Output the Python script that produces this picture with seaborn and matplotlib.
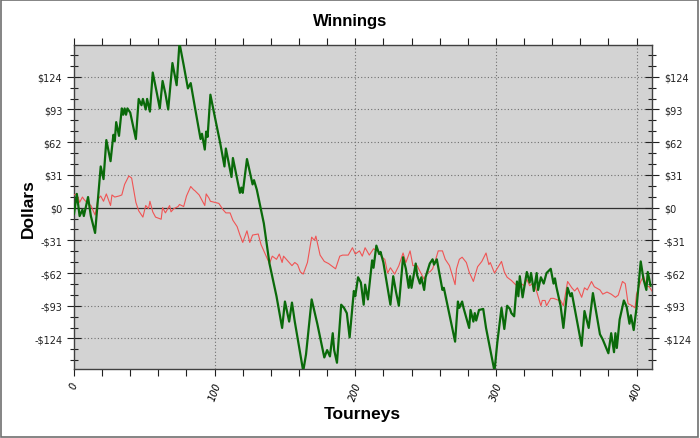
import matplotlib
matplotlib.use("Agg")
import matplotlib.pyplot as plt
from matplotlib.ticker import MultipleLocator, FuncFormatter
from matplotlib.patches import Rectangle
import seaborn as sns
import pandas as pd

# green (thick) series: tourney number / cumulative dollars
green_x = [0, 2, 4, 6, 7, 10, 12, 15, 19, 21, 23, 26, 28, 29, 30, 32, 34, 35, 36, 37,
           38, 40, 44, 46, 48, 49, 51, 52, 54, 56, 59, 61, 63, 65, 67, 70, 73, 75, 78, 81,
           83, 86, 90, 91, 93, 94, 95, 97, 100, 104, 107, 108, 112, 113, 118, 119, 120, 123, 127, 128,
           130, 135, 139, 144, 148, 150, 153, 155, 157, 163, 165, 169, 173, 178, 180, 182, 184, 185, 187, 190,
           192, 194, 196, 199, 200, 202, 204, 206, 207, 209, 211, 212, 213, 215, 217, 218, 220, 225, 227, 229,
           231, 234, 236, 238, 239, 240, 243, 244, 246, 247, 249, 250, 253, 255, 256, 258, 262, 263, 271, 273,
           274, 276, 277, 281, 282, 284, 285, 286, 288, 291, 293, 299, 301, 304, 306, 308, 310, 311, 313, 315,
           316, 317, 319, 322, 324, 325, 327, 329, 330, 332, 334, 336, 339, 341, 342, 343, 346, 348, 351, 353,
           354, 361, 363, 366, 369, 374, 376, 380, 382, 384, 385, 386, 388, 391, 393, 395, 396, 398, 400, 403,
           405, 407, 408, 410]
green_y = [-6, 13, -8, -2, -8, 10, -8, -24, 39, 27, 64, 44, 69, 63, 81, 68, 94, 88, 94, 88,
           94, 90, 65, 103, 97, 103, 93, 103, 91, 128, 108, 94, 120, 108, 93, 137, 116, 156, 135, 113,
           118, 95, 65, 70, 55, 72, 67, 107, 87, 61, 39, 56, 29, 47, 14, 19, 14, 46, 22, 26,
           17, -15, -53, -84, -114, -89, -108, -90, -108, -155, -139, -87, -110, -142, -135, -141, -119, -135, -147, -92,
           -95, -100, -123, -79, -84, -66, -71, -92, -73, -87, -62, -50, -57, -36, -44, -42, -52, -92, -65, -80,
           -93, -47, -58, -76, -65, -76, -53, -64, -72, -66, -78, -66, -53, -49, -54, -49, -78, -76, -127, -89,
           -95, -89, -95, -114, -97, -108, -100, -107, -97, -96, -114, -155, -128, -95, -115, -93, -96, -100, -103, -70,
           -84, -65, -85, -61, -71, -62, -79, -62, -78, -66, -72, -62, -58, -72, -67, -75, -93, -114, -76, -84,
           -81, -131, -98, -114, -81, -120, -125, -138, -119, -137, -119, -133, -106, -88, -94, -110, -102, -116, -95, -51,
           -68, -78, -61, -74]

# red (thin) series
red_x = [0, 2, 4, 6, 7, 9, 12, 15, 17, 19, 21, 23, 26, 27, 29, 32, 34, 36, 39, 41,
         44, 46, 49, 51, 53, 54, 56, 58, 62, 63, 65, 68, 69, 71, 74, 75, 78, 80, 83, 85,
         86, 89, 93, 94, 96, 97, 100, 103, 106, 108, 111, 113, 116, 118, 120, 123, 125, 127, 131, 133,
         136, 139, 141, 144, 146, 148, 149, 155, 157, 159, 161, 163, 166, 169, 171, 172, 175, 178, 181, 186,
         189, 191, 195, 198, 200, 203, 205, 207, 210, 213, 216, 219, 221, 223, 225, 228, 231, 234, 236, 239,
         241, 244, 247, 249, 251, 253, 255, 257, 259, 262, 264, 267, 271, 272, 274, 276, 279, 281, 284, 287,
         290, 293, 295, 296, 299, 304, 306, 308, 311, 314, 316, 318, 320, 322, 324, 326, 328, 332, 333, 335,
         336, 339, 341, 345, 346, 348, 351, 354, 356, 358, 361, 363, 365, 368, 370, 374, 376, 379, 382, 385,
         387, 390, 392, 394, 397, 399, 400, 403, 405, 407, 409, 411]
red_y = [12, 13, 5, 10, 8, 5, 2, -7, 8, 11, 6, 13, 2, 12, 10, 11, 12, 22, 30, 28,
         5, -3, -9, 2, -1, 6, -4, -9, -11, 0, -5, 2, -4, -1, 1, 3, 1, 11, 20, 17,
         16, 12, 2, 13, 9, 6, 5, 4, -2, -5, -5, -12, -18, -26, -33, -22, -33, -26, -25, -35,
         -44, -53, -46, -49, -44, -52, -46, -55, -52, -54, -61, -63, -52, -28, -31, -27, -45, -51, -53, -58,
         -46, -45, -45, -38, -44, -41, -46, -38, -45, -39, -41, -47, -49, -62, -57, -63, -55, -43, -52, -41,
         -55, -55, -63, -68, -61, -61, -58, -50, -41, -41, -49, -55, -73, -58, -49, -47, -52, -61, -70, -56,
         -51, -43, -54, -52, -62, -51, -61, -66, -69, -73, -75, -72, -74, -68, -74, -72, -75, -93, -88, -88,
         -93, -86, -86, -88, -88, -93, -70, -76, -79, -76, -85, -76, -78, -70, -75, -78, -82, -80, -82, -85,
         -83, -70, -72, -91, -93, -95, -82, -70, -65, -74, -75, -79]

green = pd.DataFrame({"Tourneys": green_x, "Dollars": green_y})
red = pd.DataFrame({"Tourneys": red_x, "Dollars": red_y})

fig = plt.figure(figsize=(7, 4.39), dpi=100)
ax = fig.add_axes([0.1057, 0.157, 0.8257, 0.738])
ax.set_facecolor("#d3d3d3")

# grid and zero line
for v in [100, 200, 300, 400]:
    ax.axvline(v, color="#707070", lw=0.8, ls=(0, (1, 2)), zorder=1)
for v in [-124, -93, -62, -31, 31, 62, 93, 124]:
    ax.axhline(v, color="#707070", lw=0.8, ls=(0, (1, 2)), zorder=1)
ax.axhline(0, color="#303030", lw=0.9, zorder=1)

sns.lineplot(data=red, x="Tourneys", y="Dollars", ax=ax, color="#f05454",
             linewidth=0.8, zorder=3)
sns.lineplot(data=green, x="Tourneys", y="Dollars", ax=ax, color="#0a6a0a",
             linewidth=1.6, zorder=4)

ax.set_xlim(0, 411)
ax.set_ylim(-153, 154)

ax.xaxis.set_major_locator(MultipleLocator(100))
ax.xaxis.set_minor_locator(MultipleLocator(20))
ax.yaxis.set_major_locator(MultipleLocator(31))
ax.yaxis.set_minor_locator(MultipleLocator(31 / 3))
ax.yaxis.set_major_formatter(FuncFormatter(
    lambda v, p: ("-$%d" % abs(round(v))) if v < -0.5 else "$%d" % round(v)))

ax.tick_params(axis="y", which="both", left=True, right=True, labelleft=True,
               labelright=True, direction="inout", color="#202020", labelsize=7)
ax.tick_params(axis="y", which="major", length=10, width=0.8)
ax.tick_params(axis="y", which="minor", length=6, width=0.8)
ax.tick_params(axis="x", which="both", bottom=True, direction="out",
               color="#202020", labelsize=7, length=5, width=0.8)
ax.tick_params(axis="x", which="both", top=True)
for t in ax.xaxis.get_ticklines(minor=False) + ax.xaxis.get_ticklines(minor=True):
    pass
plt.setp(ax.get_xticklabels(), rotation=70, style="italic")
for lbl in ax.get_yticklabels():
    lbl.set_color("#202020")

for s in ax.spines.values():
    s.set_color("#404040")
    s.set_linewidth(1.0)

ax.set_xlabel("")
ax.set_ylabel("")
fig.text(0.5, 0.95, "Winnings", ha="center", va="center", fontsize=12,
         fontweight="bold", family="Liberation Sans")
fig.text(0.518, 0.055, "Tourneys", ha="center", va="center", fontsize=12.5,
         fontweight="bold", family="Liberation Sans")
fig.text(0.04, 0.525, "Dollars", ha="center", va="center", fontsize=12.5,
         fontweight="bold", rotation=90, family="Liberation Sans")

fig.patches.append(Rectangle((0.002, 0.003), 0.995, 0.994, transform=fig.transFigure,
                             fill=False, edgecolor="#707070", lw=1.2))

fig.savefig("out.png", dpi=100)
